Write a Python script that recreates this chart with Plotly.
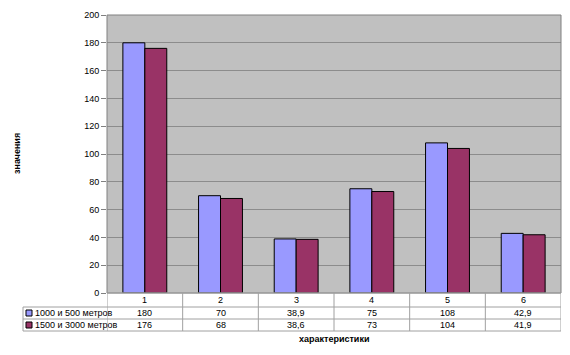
import plotly.graph_objects as go

categories = ["1", "2", "3", "4", "5", "6"]
series_names = ["1000 и 500 метров", "1500 и 3000 метров"]
values_a = [180, 70, 38.9, 75, 108, 42.9]
values_b = [176, 68, 38.6, 73, 104, 41.9]
labels_a = ["180", "70", "38,9", "75", "108", "42,9"]
labels_b = ["176", "68", "38,6", "73", "104", "41,9"]
colors = ["#9999FF", "#993366"]

W, H = 570, 355
L, R, T, B = 107, 9, 15, 62
pw = W - L - R
ph = H - T - B

def py(pix):
    return (H - B - pix) / ph

def px(pix):
    return (pix - L) / pw

xs = list(range(len(categories)))
fig = go.Figure()
for name, vals, col in zip(series_names, [values_a, values_b], colors):
    fig.add_trace(go.Bar(x=xs, y=vals, name=name, marker=dict(color=col, line=dict(color="#000000", width=1))))

font = dict(family="Liberation Sans, Arial", size=9, color="#000000")
line_col = "#A0A0A0"
shapes = []
ann = []
# plot area border
shapes.append(dict(type="rect", xref="paper", yref="paper", x0=0, x1=1, y0=0, y1=1,
                   line=dict(color="#808080", width=1), layer="above"))
# table rows
row_lines = [293, 307, 319, 331]
for i, yy in enumerate(row_lines):
    x0 = px(23) if i >= 1 else 0
    shapes.append(dict(type="line", xref="paper", yref="paper", x0=x0, x1=1, y0=py(yy), y1=py(yy),
                       line=dict(color=line_col, width=1)))
# vertical lines at category boundaries
for k in range(len(categories) + 1):
    shapes.append(dict(type="line", xref="x", yref="paper", x0=k - 0.5, x1=k - 0.5,
                       y0=py(293), y1=py(331), line=dict(color=line_col, width=1)))
shapes.append(dict(type="line", xref="paper", yref="paper", x0=px(23), x1=px(23),
                   y0=py(307), y1=py(331), line=dict(color=line_col, width=1)))
# legend keys
for j, (yc, col) in enumerate(zip([313, 325], colors)):
    shapes.append(dict(type="rect", xref="paper", yref="paper", x0=px(26), x1=px(32),
                       y0=py(yc + 3), y1=py(yc - 3), fillcolor=col, line=dict(color="#000000", width=1)))
    ann.append(dict(xref="paper", yref="paper", x=px(33), y=py(yc), text=series_names[j],
                    showarrow=False, xanchor="left", yanchor="middle", font=font))
for k, c in enumerate(categories):
    ann.append(dict(xref="x", yref="paper", x=k, y=py(300), text=c, showarrow=False,
                    yanchor="middle", font=font))
    ann.append(dict(xref="x", yref="paper", x=k, y=py(313), text=labels_a[k], showarrow=False,
                    yanchor="middle", font=font))
    ann.append(dict(xref="x", yref="paper", x=k, y=py(325), text=labels_b[k], showarrow=False,
                    yanchor="middle", font=font))
ann.append(dict(xref="paper", yref="paper", x=0.5, y=py(339), text="<b>характеристики</b>",
                showarrow=False, yanchor="middle", font=font))
ann.append(dict(xref="paper", yref="paper", x=px(17), y=0.5, text="<b>значения</b>", textangle=-90,
                showarrow=False, xanchor="center", yanchor="middle", font=font))

fig.update_layout(
    width=W, height=H,
    margin=dict(l=L, r=R, t=T, b=B, pad=0),
    paper_bgcolor="#FFFFFF", plot_bgcolor="#C0C0C0",
    barmode="group", bargap=0.42, bargroupgap=0,
    showlegend=False,
    shapes=shapes, annotations=ann,
    xaxis=dict(range=[-0.5, len(categories) - 0.5], showticklabels=False, showgrid=False,
               zeroline=False, ticks=""),
    yaxis=dict(range=[0, 200], dtick=20, showgrid=True, gridcolor="#8C8C8C", gridwidth=1,
               zeroline=False, ticks="outside", ticklen=5, tickcolor="#808080",
               tickfont=font, showline=False),
)
fig.write_html("out.html")
